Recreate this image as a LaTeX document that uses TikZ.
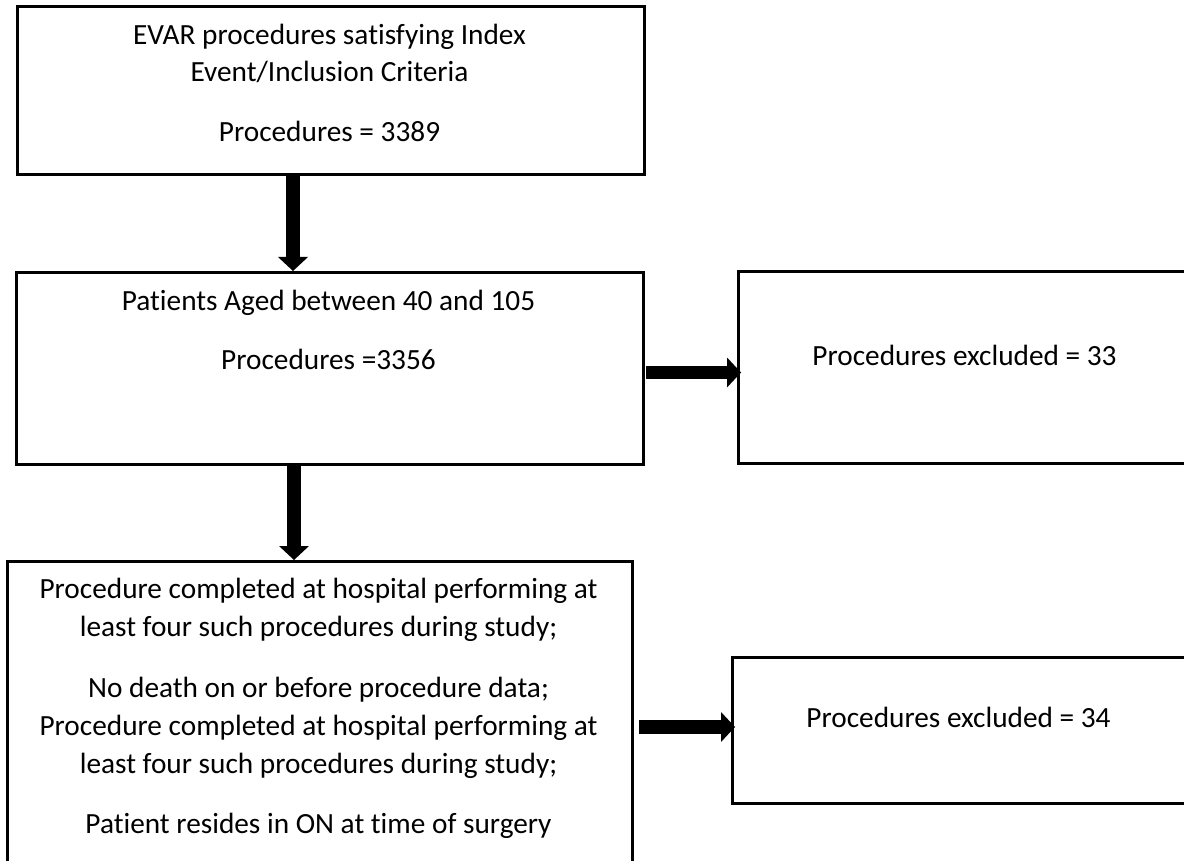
\documentclass[tikz,border=0pt]{standalone}
\usepackage{fontspec}
\setmainfont[Ligatures=NoCommon]{Carlito}
\usetikzlibrary{arrows.meta}
\tikzset{
  box/.style={draw=black, line width=2.6pt, inner sep=0pt, anchor=north west},
  txt/.style={anchor=base, inner sep=0pt, text=black, font=\fontsize{29.3}{35}\selectfont},
  fatarrow/.style={draw=black, line width=13.5pt, -{Triangle[width=30pt,length=14pt,line width=0pt]}},
}
\begin{document}
\begin{tikzpicture}[x=1pt,y=-1pt]
\clip (0,0) rectangle (1184,861);
\fill[white] (0,0) rectangle (1184,861);
% boxes
\node[box, minimum width=627pt, minimum height=168pt] (b1) at (16,5) {};
\node[box, minimum width=627pt, minimum height=192pt] (b2) at (15,271) {};
\node[box, minimum width=455pt, minimum height=192pt] (r1) at (737,270) {};
\node[box, minimum width=625pt, minimum height=330pt] (b3) at (6,560) {};
\node[box, minimum width=455pt, minimum height=146pt] (r2) at (731,656) {};
% texts
\node[txt] (t1a) at (329.5,45) {EVAR procedures satisfying Index};
\node[txt] (t1b) at (329.5,82) {Event/Inclusion Criteria};
\node[txt] (t1c) at (329.5,142) {Procedures = 3389};
\node[txt] (t2a) at (328.5,310) {Patients Aged between 40 and 105};
\node[txt] (t2b) at (328.5,369) {Procedures =3356};
\node[txt] (tr1) at (964.5,365) {Procedures excluded = 33};
\node[txt] (t3a) at (318.5,598) {Procedure completed at hospital performing at};
\node[txt] (t3b) at (318.5,636) {least four such procedures during study;};
\node[txt] (t3c) at (318.5,697) {No death on or before procedure data;};
\node[txt] (t3d) at (318.5,735) {Procedure completed at hospital performing at};
\node[txt] (t3e) at (318.5,773) {least four such procedures during study;};
\node[txt] (t3f) at (318.5,833) {Patient resides in ON at time of surgery};
\node[txt] (tr2) at (958.5,727) {Procedures excluded = 34};
% connectors
\coordinate (a1) at (293,0);
\coordinate (a2) at (294,0);
\coordinate (a3) at (0,372.5);
\coordinate (a4) at (0,727);
\draw[fatarrow] (b1.south -| a1) -- (b2.north -| a1);
\draw[fatarrow] (b2.south -| a2) -- (b3.north -| a2);
\draw[fatarrow] ([xshift=1pt]b2.east |- a3) -- ([xshift=4pt]r1.west |- a3);
\draw[fatarrow] ([xshift=5pt]b3.east |- a4) -- ([xshift=4pt]r2.west |- a4);
\end{tikzpicture}
\end{document}
